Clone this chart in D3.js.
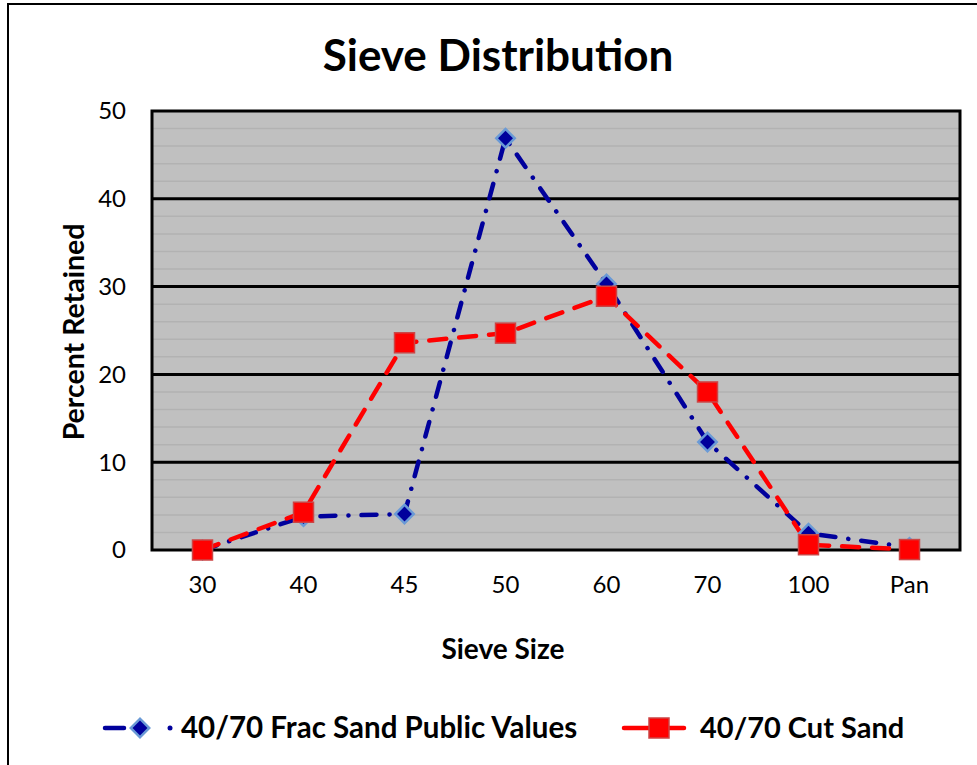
<!DOCTYPE html>
<html>
<head>
<meta charset="utf-8">
<script src="https://cdn.jsdelivr.net/npm/d3@7"></script>
<style>
  body { margin: 0; background: #fff; }
  svg { display: block; font-family: Lato, "Open Sans", sans-serif; }
</style>
</head>
<body>
<svg id="chart"></svg>
<script>
const sieveSizes = ["30", "40", "45", "50", "60", "70", "100", "Pan"];
const fracSandPublic = [0, 3.8, 4.1, 46.9, 30.3, 12.3, 1.9, 0.3];
const cutSand = [0, 4.3, 23.6, 24.7, 28.9, 18.0, 0.6, 0.05];
const yTicks = [0, 10, 20, 30, 40, 50];
const minorTicks = d3.range(0, 50, 2);

const width = 977, height = 765;
const margin = {left: 152, top: 111, right: 17, bottom: 215};
const plotW = width - margin.left - margin.right;
const plotH = height - margin.top - margin.bottom;

const svg = d3.select("#chart").attr("width", width).attr("height", height);

// chart frame
svg.append("rect")
    .attr("x", 8).attr("y", 4)
    .attr("width", 985).attr("height", 790)
    .attr("fill", "#fff").attr("stroke", "#000").attr("stroke-width", 2);

const x = d3.scalePoint().domain(sieveSizes).range([0, plotW]).padding(0.5);
const y = d3.scaleLinear().domain([0, 50]).range([plotH, 0]);

const g = svg.append("g").attr("transform", `translate(${margin.left},${margin.top})`);

g.append("rect").attr("width", plotW).attr("height", plotH).attr("fill", "#c0c0c0");

g.selectAll(".minor").data(minorTicks.filter(d => d % 10 !== 0))
    .join("line")
    .attr("x1", 0).attr("x2", plotW)
    .attr("y1", d => y(d)).attr("y2", d => y(d))
    .attr("stroke", "#b2b2b2").attr("stroke-width", 1.5);

g.selectAll(".major").data(yTicks.filter(d => d > 0 && d < 50))
    .join("line")
    .attr("x1", 0).attr("x2", plotW)
    .attr("y1", d => y(d)).attr("y2", d => y(d))
    .attr("stroke", "#000").attr("stroke-width", 3);

g.append("rect").attr("width", plotW).attr("height", plotH)
    .attr("fill", "none").attr("stroke", "#000").attr("stroke-width", 3);

// y axis labels
g.selectAll(".ytick").data(yTicks).join("text")
    .attr("x", -26).attr("y", d => y(d)).attr("dy", "0.35em")
    .attr("text-anchor", "end").attr("font-size", 24).attr("fill", "#000")
    .text(d => d);

// x axis labels
g.selectAll(".xtick").data(sieveSizes).join("text")
    .attr("x", d => x(d)).attr("y", plotH + 43)
    .attr("text-anchor", "middle").attr("font-size", 24).attr("fill", "#000")
    .text(d => d);

svg.append("text").attr("x", 498).attr("y", 71)
    .attr("text-anchor", "middle").attr("font-size", 44).attr("font-weight", "bold")
    .text("Sieve Distribution");

svg.append("text").attr("x", 503).attr("y", 659)
    .attr("text-anchor", "middle").attr("font-size", 28).attr("font-weight", "bold")
    .text("Sieve Size");

svg.append("text").attr("transform", "translate(84,332) rotate(-90)")
    .attr("text-anchor", "middle").attr("font-size", 28.5).attr("font-weight", "bold")
    .text("Percent Retained");

const blue = "#00009c", red = "#ff0000";
const line = d3.line().x((d, i) => x(sieveSizes[i])).y(d => y(d));

g.append("path").datum(fracSandPublic).attr("d", line)
    .attr("fill", "none").attr("stroke", blue).attr("stroke-width", 4.5)
    .attr("stroke-linecap", "round").attr("stroke-dasharray", "15,13,0.1,13");

g.append("path").datum(cutSand).attr("d", line)
    .attr("fill", "none").attr("stroke", red).attr("stroke-width", 4.5)
    .attr("stroke-linecap", "round").attr("stroke-dasharray", "17,13");

const diamond = d3.symbol().type(d3.symbolSquare).size(170);

g.selectAll(".blueMark").data(fracSandPublic).join("path")
    .attr("d", diamond)
    .attr("transform", (d, i) => `translate(${x(sieveSizes[i])},${y(d)}) rotate(45)`)
    .attr("fill", blue).attr("stroke", "#6a9ad6").attr("stroke-width", 2.5);

g.selectAll(".redMark").data(cutSand).join("rect")
    .attr("x", (d, i) => x(sieveSizes[i]) - 10).attr("y", d => y(d) - 10)
    .attr("width", 20).attr("height", 20)
    .attr("fill", red).attr("stroke", "#cc4444").attr("stroke-width", 1.5);

// legend
const leg = svg.append("g").attr("transform", "translate(0,728)");
leg.append("line").attr("x1", 105).attr("x2", 124).attr("y1", 0).attr("y2", 0)
    .attr("stroke", blue).attr("stroke-width", 4.5).attr("stroke-linecap", "round");
leg.append("circle").attr("cx", 170).attr("cy", 0).attr("r", 2.5).attr("fill", blue);
leg.append("path").attr("d", diamond).attr("transform", "translate(140,0) rotate(45)")
    .attr("fill", blue).attr("stroke", "#6a9ad6").attr("stroke-width", 2.5);
leg.append("text").attr("x", 181).attr("y", 0).attr("dy", "0.35em")
    .attr("font-size", 29.5).attr("font-weight", "bold").text("40/70 Frac Sand Public Values");

leg.append("line").attr("x1", 624).attr("x2", 684).attr("y1", 0).attr("y2", 0)
    .attr("stroke", red).attr("stroke-width", 4.5).attr("stroke-linecap", "round");
leg.append("rect").attr("x", 649).attr("y", -10).attr("width", 20).attr("height", 20)
    .attr("fill", red).attr("stroke", "#cc4444").attr("stroke-width", 1.5);
leg.append("text").attr("x", 700).attr("y", 0).attr("dy", "0.35em")
    .attr("font-size", 29).attr("font-weight", "bold").text("40/70 Cut Sand");
</script>
</body>
</html>
